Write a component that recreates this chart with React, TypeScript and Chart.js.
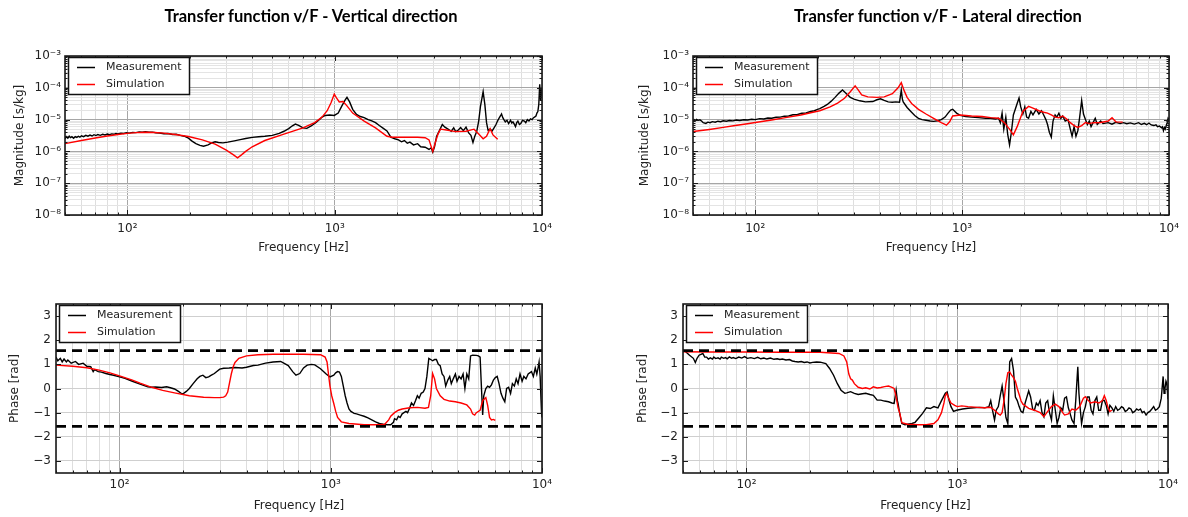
import React, { useEffect, useRef } from 'react';
import Chart from 'chart.js/auto';

// ---------- axes / labels ----------
const X_MIN = 50;
const X_MAX = 10000;
const X_MAJOR_TICKS = [100, 1000, 10000];
const X_TICK_LABELS = ['10²', '10³', '10⁴'];
const MAG_MIN = 1e-8;
const MAG_MAX = 1e-3;
const MAG_MAJOR_TICKS = [1e-8, 1e-7, 1e-6, 1e-5, 1e-4, 1e-3];
const MAG_TICK_LABELS = ['10⁻⁸', '10⁻⁷', '10⁻⁶', '10⁻⁵', '10⁻⁴', '10⁻³'];
const PHASE_MIN = -3.5;
const PHASE_MAX = 3.5;
const PHASE_TICKS = [-3, -2, -1, 0, 1, 2, 3];
const PHASE_TICK_LABELS = ['−3', '−2', '−1', '0', '1', '2', '3'];
const PHASE_BOUNDS = [Math.PI / 2, -Math.PI / 2];
const SERIES_NAMES = ['Measurement', 'Simulation'];
const TITLES = ['Transfer function v/F - Vertical direction', 'Transfer function v/F - Lateral direction'];
const X_TITLE = 'Frequency [Hz]';
const MAG_TITLE = 'Magnitude [s/kg]';
const PHASE_TITLE = 'Phase [rad]';

// ---------- data: [frequency Hz, value] ----------
const vMagMeas = [
  [50, 2.5e-6], [50.8, 2.9e-6], [51.6, 2.6e-6], [52.4, 3.0e-6], [53.2, 2.7e-6], [54, 2.9e-6], [55, 2.6e-6], [56, 2.9e-6],
  [57, 2.75e-6], [58, 3.0e-6], [59, 2.8e-6], [60, 3.1e-6], [61.5, 2.9e-6], [63, 3.2e-6], [64.5, 3.0e-6], [66, 3.25e-6],
  [67.5, 3.05e-6], [69, 3.35e-6], [70.5, 3.15e-6], [72, 3.4e-6], [74, 3.2e-6], [76, 3.45e-6], [78, 3.3e-6], [80, 3.5e-6],
  [82, 3.35e-6], [84, 3.55e-6], [86, 3.45e-6], [88, 3.65e-6], [90, 3.55e-6], [93, 3.75e-6], [96, 3.65e-6], [99, 3.85e-6],
  [102, 3.75e-6], [106, 3.95e-6], [110, 3.9e-6], [114, 4.1e-6], [118, 4.0e-6], [122, 4.15e-6], [127, 4.0e-6], [132, 4.05e-6],
  [137, 3.85e-6], [143, 3.8e-6], [150, 3.6e-6], [157, 3.65e-6], [165, 3.4e-6], [172, 3.45e-6], [180, 3.2e-6], [188, 3.0e-6],
  [197, 2.6e-6], [205, 2.1e-6], [214, 1.75e-6], [224, 1.55e-6], [233, 1.45e-6], [245, 1.6e-6], [255, 1.85e-6], [265, 2.0e-6],
  [275, 1.9e-6], [289, 1.85e-6], [305, 1.95e-6], [328, 2.15e-6], [350, 2.35e-6], [372, 2.55e-6], [400, 2.75e-6], [430, 2.9e-6],
  [460, 3.0e-6], [500, 3.2e-6], [540, 3.7e-6], [569, 4.3e-6], [600, 5.2e-6], [625, 6.4e-6], [646, 7.2e-6], [670, 6.6e-6],
  [703, 5.5e-6], [734, 5.3e-6], [770, 6.3e-6], [810, 8.0e-6], [850, 1.05e-5], [869, 1.2e-5], [900, 1.35e-5], [946, 1.4e-5],
  [995, 1.35e-5], [1040, 1.6e-5], [1080, 2.6e-5], [1120, 4.0e-5], [1146, 5.0e-5], [1180, 3.6e-5], [1221, 2.1e-5], [1274, 1.45e-5],
  [1330, 1.25e-5], [1387, 1.15e-5], [1450, 1.0e-5], [1510, 9.1e-6], [1574, 8.0e-6], [1641, 6.5e-6], [1710, 5.4e-6], [1787, 4.4e-6],
  [1866, 2.8e-6], [1950, 2.5e-6], [2031, 2.3e-6], [2100, 2.0e-6], [2170, 2.2e-6], [2240, 1.8e-6], [2306, 1.95e-6], [2400, 1.6e-6],
  [2512, 1.75e-6], [2600, 1.4e-6], [2731, 1.35e-6], [2851, 1.15e-6], [2920, 1.3e-6], [2972, 9.5e-7], [3030, 1.4e-6], [3103, 3.0e-6],
  [3200, 4.5e-6], [3305, 7.0e-6], [3400, 5.8e-6], [3522, 5.0e-6], [3650, 4.3e-6], [3750, 5.5e-6], [3834, 4.2e-6], [3950, 4.7e-6],
  [4050, 5.6e-6], [4174, 4.5e-6], [4300, 5.8e-6], [4430, 3.8e-6], [4541, 3.2e-6], [4645, 1.9e-6], [4740, 3.0e-6], [4842, 4.2e-6],
  [4950, 9.0e-6], [5048, 2.6e-5], [5200, 7.5e-5], [5300, 3.0e-5], [5400, 8.0e-6], [5495, 4.6e-6], [5620, 5.0e-6], [5750, 4.4e-6],
  [5861, 5.4e-6], [6000, 7.0e-6], [6100, 9.0e-6], [6200, 1.1e-5], [6300, 1.3e-5], [6379, 1.5e-5], [6470, 1.15e-5], [6550, 1.0e-5],
  [6653, 8.5e-6], [6780, 9.5e-6], [6900, 7.5e-6], [6980, 8.5e-6], [7050, 9.5e-6], [7150, 7.8e-6], [7244, 8.5e-6], [7350, 7.2e-6],
  [7450, 6.0e-6], [7550, 8.0e-6], [7650, 9.0e-6], [7780, 7.0e-6], [7900, 7.5e-6], [8050, 9.5e-6], [8225, 9.0e-6], [8350, 8.0e-6],
  [8500, 1.0e-5], [8650, 9.0e-6], [8800, 1.05e-5], [8955, 1.0e-5], [9100, 1.15e-5], [9200, 1.2e-5], [9350, 1.3e-5], [9450, 1.6e-5],
  [9550, 1.8e-5], [9650, 3.0e-5], [9750, 1.3e-4], [9850, 4.0e-5], [9960, 1.0e-4], [10000, 6.0e-5],
];
const vMagSim = [
  [50, 1.75e-6], [60, 2.2e-6], [70, 2.65e-6], [80, 3.05e-6], [90, 3.4e-6], [100, 3.7e-6], [110, 3.9e-6], [121, 4.0e-6],
  [135, 3.95e-6], [150, 3.75e-6], [170, 3.4e-6], [197, 2.95e-6], [230, 2.3e-6], [265, 1.7e-6], [300, 1.1e-6], [325, 7.8e-7],
  [340, 6.3e-7], [355, 7.8e-7], [372, 1.0e-6], [400, 1.4e-6], [460, 2.2e-6], [569, 3.5e-6], [703, 5.5e-6], [800, 8.0e-6],
  [869, 1.2e-5], [920, 1.9e-5], [960, 3.4e-5], [995, 6.3e-5], [1020, 4.8e-5], [1052, 3.6e-5], [1097, 3.7e-5], [1146, 2.7e-5],
  [1221, 1.6e-5], [1387, 9.0e-6], [1574, 5.5e-6], [1787, 3.0e-6], [1900, 2.8e-6], [2200, 2.8e-6], [2512, 2.8e-6], [2731, 2.7e-6],
  [2851, 2.3e-6], [2972, 1.0e-6], [3050, 1.8e-6], [3150, 3.5e-6], [3238, 5.0e-6], [3400, 4.8e-6], [3834, 4.2e-6], [4300, 4.3e-6],
  [4700, 5.0e-6], [4950, 3.5e-6], [5200, 2.5e-6], [5400, 3.0e-6], [5620, 5.2e-6], [5800, 3.3e-6], [6112, 2.4e-6],
];
const vPhaseMeas = [
  [50, 1.3], [51, 1.15], [52.4, 1.25], [53.5, 1.1], [54.6, 1.22], [56, 1.1], [56.9, 1.18], [59, 1.05],
  [61.8, 1.12], [64, 1.0], [67.2, 1.05], [70, 0.92], [73, 0.9], [75, 0.7], [76.1, 0.78], [79.3, 0.7],
  [82, 0.68], [86.1, 0.62], [90, 0.58], [93.6, 0.55], [100, 0.48], [106, 0.42], [115, 0.3], [125, 0.18],
  [136, 0.07], [142, 0.05], [148, 0.06], [158, 0.04], [167, 0.07], [174, 0.03], [182, -0.02], [190, -0.12],
  [197, -0.22], [201, -0.2], [207, -0.12], [214, 0.0], [223, 0.2], [233, 0.4], [240, 0.5], [248, 0.55],
  [256, 0.45], [264, 0.48], [272, 0.55], [281, 0.62], [298, 0.8], [311, 0.84], [330, 0.85], [352, 0.87],
  [380, 0.85], [399, 0.88], [430, 0.95], [452, 0.97], [491, 1.05], [533, 1.1], [579, 1.12], [629, 0.95],
  [660, 0.7], [684, 0.55], [713, 0.62], [743, 0.85], [773, 0.97], [810, 1.0], [840, 0.98], [894, 0.82],
  [951, 0.6], [991, 0.48], [1033, 0.55], [1055, 0.65], [1077, 0.7], [1099, 0.68], [1122, 0.5], [1146, 0.1],
  [1170, -0.3], [1194, -0.6], [1219, -0.85], [1245, -0.95], [1290, -1.03], [1324, -1.05], [1380, -1.1], [1438, -1.15],
  [1500, -1.22], [1563, -1.3], [1630, -1.38], [1698, -1.45], [1770, -1.48], [1844, -1.5], [1922, -1.5], [1980, -1.4],
  [2004, -1.25], [2050, -1.3], [2089, -1.15], [2130, -1.2], [2177, -1.05], [2220, -1.0], [2269, -0.95], [2310, -1.0],
  [2365, -0.8], [2410, -0.6], [2465, -0.7], [2520, -0.5], [2570, -0.3], [2620, -0.4], [2679, -0.2], [2740, -0.15],
  [2792, 0.0], [2850, 0.5], [2911, 1.25], [2972, 1.2], [3034, 1.15], [3100, 1.2], [3162, 1.2], [3230, 1.0],
  [3296, 0.95], [3366, 0.6], [3436, 0.5], [3500, 0.1], [3581, 0.35], [3656, 0.5], [3720, 0.2], [3800, 0.4],
  [3890, 0.6], [3960, 0.3], [4050, 0.5], [4140, 0.4], [4230, 0.6], [4315, 0.0], [4406, 0.6], [4498, 0.4],
  [4590, 1.35], [4690, 1.38], [4888, 1.37], [5000, 1.35], [5093, 1.3], [5152, 0.3], [5237, -1.1], [5300, -0.3],
  [5420, 0.0], [5530, 0.1], [5646, 0.05], [5764, 0.15], [5888, 0.35], [6010, 0.45], [6135, 0.5], [6260, 0.2],
  [6395, -0.2], [6530, -0.4], [6666, -0.55], [6800, 0.0], [6948, 0.05], [7100, -0.2], [7242, 0.2], [7400, 0.1],
  [7550, 0.4], [7700, 0.2], [7870, 0.6], [8050, 0.3], [8205, 0.5], [8400, 0.4], [8600, 0.6], [8915, 0.7],
  [9100, 0.5], [9292, 0.85], [9450, 0.6], [9600, 0.9], [9687, 1.1], [9800, 0.5], [9895, -0.5], [9950, -1.0],
  [10000, -1.2],
];
const vPhaseSim = [
  [50, 0.97], [60, 0.92], [70, 0.86], [80, 0.76], [90, 0.65], [100, 0.52], [115, 0.35], [125, 0.22],
  [142, 0.05], [160, -0.08], [182, -0.18], [214, -0.3], [250, -0.36], [281, -0.38], [298, -0.38], [311, -0.36],
  [318, -0.3], [325, -0.15], [331, 0.2], [338, 0.6], [345, 0.9], [352, 1.08], [367, 1.25], [399, 1.35],
  [452, 1.4], [533, 1.42], [743, 1.42], [894, 1.4], [940, 1.3], [960, 1.1], [975, 0.6], [991, 0.1],
  [1010, -0.3], [1033, -0.62], [1055, -0.95], [1077, -1.2], [1122, -1.38], [1219, -1.45], [1438, -1.5], [1698, -1.5],
  [1800, -1.48], [1880, -1.3], [1922, -1.15], [2004, -1.0], [2089, -0.9], [2177, -0.85], [2365, -0.8], [2570, -0.78],
  [2792, -0.82], [2900, -0.78], [2972, -0.3], [3034, 0.62], [3100, 0.4], [3162, 0.0], [3296, -0.3], [3436, -0.45],
  [3656, -0.52], [3890, -0.55], [4140, -0.6], [4406, -0.68], [4590, -0.85], [4690, -1.05], [4800, -1.1], [4888, -1.0],
  [5093, -0.9], [5237, -0.5], [5420, -0.38], [5530, -0.7], [5646, -1.2], [5764, -1.3], [5888, -1.28], [6010, -1.32],
];
const lMagMeas = [
  [50, 8.5e-6], [50.6, 1.0e-5], [51.3, 9.2e-6], [52, 1.02e-5], [53, 9.5e-6], [54, 9.8e-6], [55, 9.0e-6], [56, 8.0e-6],
  [57.7, 7.6e-6], [59, 8.3e-6], [60.5, 8.0e-6], [62, 8.6e-6], [64, 8.3e-6], [66, 8.9e-6], [68, 8.6e-6], [70, 9.2e-6],
  [72.5, 8.9e-6], [75, 9.4e-6], [78, 9.1e-6], [81, 9.7e-6], [84, 9.4e-6], [88, 9.9e-6], [92, 9.7e-6], [96, 1.03e-5],
  [100, 1.0e-5], [105, 1.07e-5], [110, 1.05e-5], [115, 1.12e-5], [120, 1.1e-5], [126, 1.18e-5], [132, 1.2e-5], [138, 1.28e-5],
  [145, 1.3e-5], [152, 1.42e-5], [160, 1.45e-5], [168, 1.58e-5], [176, 1.62e-5], [185, 1.8e-5], [193, 1.9e-5], [200, 2.1e-5],
  [205, 2.2e-5], [215, 2.6e-5], [223, 3.0e-5], [233, 3.8e-5], [243, 5.0e-5], [254, 6.8e-5], [264, 8.5e-5], [276, 6.5e-5],
  [288, 5.0e-5], [300, 4.4e-5], [320, 3.9e-5], [341, 3.6e-5], [370, 3.7e-5], [387, 4.2e-5], [403, 4.5e-5], [420, 4.0e-5],
  [439, 3.6e-5], [460, 3.5e-5], [477, 3.6e-5], [498, 3.5e-5], [508, 8.5e-5], [514, 4.5e-5], [519, 3.6e-5], [542, 2.4e-5],
  [565, 1.8e-5], [590, 1.35e-5], [615, 1.1e-5], [640, 1.0e-5], [669, 9.5e-6], [700, 9.0e-6], [728, 8.8e-6], [760, 9.2e-6],
  [793, 1.0e-5], [827, 1.2e-5], [855, 1.6e-5], [880, 2.0e-5], [900, 2.1e-5], [940, 1.6e-5], [979, 1.35e-5], [1040, 1.25e-5],
  [1111, 1.2e-5], [1200, 1.15e-5], [1300, 1.1e-5], [1374, 1.1e-5], [1450, 1.05e-5], [1500, 1.1e-5], [1530, 8.0e-6], [1560, 1.6e-5],
  [1590, 5.0e-6], [1626, 1.2e-5], [1660, 3.5e-6], [1695, 1.6e-6], [1730, 4.0e-6], [1769, 1.4e-5], [1810, 2.2e-5], [1845, 3.2e-5],
  [1884, 4.8e-5], [1920, 2.5e-5], [1966, 1.5e-5], [2009, 2.5e-5], [2050, 1.2e-5], [2095, 1.1e-5], [2150, 1.8e-5], [2200, 1.4e-5],
  [2280, 2.1e-5], [2350, 1.5e-5], [2420, 1.9e-5], [2479, 1.4e-5], [2540, 1.0e-5], [2587, 7.0e-6], [2640, 4.0e-6], [2698, 2.8e-6],
  [2750, 9.0e-6], [2815, 1.4e-5], [2870, 1.2e-5], [2936, 1.6e-5], [3000, 1.1e-5], [3063, 1.3e-5], [3150, 9.0e-6], [3250, 1.0e-5],
  [3333, 5.0e-6], [3400, 3.0e-6], [3477, 6.0e-6], [3550, 3.0e-6], [3626, 4.5e-6], [3700, 1.2e-5], [3783, 4.0e-5], [3860, 1.5e-5],
  [3946, 1.0e-5], [4030, 7.0e-6], [4117, 9.0e-6], [4200, 6.0e-6], [4295, 8.0e-6], [4400, 1.1e-5], [4500, 7.0e-6], [4674, 9.0e-6],
  [4800, 7.5e-6], [5085, 8.0e-6], [5300, 7.2e-6], [5533, 8.2e-6], [5800, 7.5e-6], [6024, 8.0e-6], [6250, 7.4e-6], [6500, 7.9e-6],
  [6800, 7.2e-6], [7130, 8.0e-6], [7350, 7.0e-6], [7600, 7.6e-6], [7800, 6.9e-6], [8000, 7.8e-6], [8200, 6.8e-6], [8447, 6.5e-6],
  [8650, 6.9e-6], [8800, 6.0e-6], [9000, 6.3e-6], [9190, 5.5e-6], [9300, 5.9e-6], [9400, 4.5e-6], [9500, 5.6e-6], [9590, 5.0e-6],
  [9700, 6.5e-6], [9800, 8.0e-6], [9900, 1.1e-5], [10000, 1.0e-5],
];
const lMagSim = [
  [50, 4.2e-6], [60, 4.9e-6], [70, 5.7e-6], [80, 6.5e-6], [90, 7.3e-6], [100, 8.1e-6], [120, 9.7e-6], [140, 1.15e-5],
  [166, 1.4e-5], [190, 1.7e-5], [205, 1.9e-5], [230, 2.5e-5], [250, 3.3e-5], [270, 4.7e-5], [288, 7.5e-5], [304, 1.15e-4],
  [315, 8.5e-5], [327, 6.0e-5], [350, 5.2e-5], [387, 5.0e-5], [420, 5.2e-5], [460, 6.5e-5], [490, 1.0e-4], [508, 1.45e-4],
  [525, 8.0e-5], [542, 5.0e-5], [570, 3.2e-5], [615, 2.1e-5], [669, 1.5e-5], [728, 1.1e-5], [793, 8.0e-6], [840, 6.7e-6],
  [870, 8.5e-6], [900, 1.3e-5], [979, 1.4e-5], [1111, 1.3e-5], [1250, 1.25e-5], [1374, 1.15e-5], [1500, 1.1e-5], [1600, 8.0e-6],
  [1695, 5.0e-6], [1769, 3.3e-6], [1845, 6.0e-6], [1966, 1.8e-5], [2095, 2.6e-5], [2200, 2.3e-5], [2350, 1.9e-5], [2479, 1.7e-5],
  [2587, 1.6e-5], [2698, 1.4e-5], [2815, 1.2e-5], [2936, 1.15e-5], [3063, 1.3e-5], [3200, 1.05e-5], [3333, 8.0e-6], [3477, 6.5e-6],
  [3626, 5.7e-6], [3783, 6.5e-6], [3946, 8.1e-6], [4117, 7.5e-6], [4295, 8.0e-6], [4674, 8.1e-6], [5085, 9.0e-6], [5304, 1.15e-5],
  [5533, 8.5e-6], [5970, 8.3e-6],
];
const lPhaseMeas = [
  [50, 1.6], [51.5, 1.52], [53.7, 1.38], [56, 1.25], [57.2, 1.08], [58.3, 1.25], [59.6, 1.38], [62.1, 1.45],
  [63.4, 1.3], [64.7, 1.3], [66, 1.22], [67.4, 1.27], [69, 1.22], [70, 1.3], [71.5, 1.24], [73.3, 1.27],
  [75, 1.22], [76, 1.3], [78, 1.25], [79.6, 1.28], [81, 1.23], [83, 1.31], [85, 1.25], [86.5, 1.28],
  [89, 1.24], [92, 1.3], [95, 1.26], [98, 1.32], [101, 1.25], [105, 1.28], [109, 1.24], [113, 1.29],
  [117, 1.23], [121, 1.26], [125, 1.22], [130, 1.26], [135, 1.21], [140, 1.23], [144, 1.2], [148, 1.22],
  [154, 1.18], [160, 1.2], [165, 1.14], [170, 1.12], [176, 1.1], [182, 1.12], [188, 1.08], [194, 1.1],
  [200, 1.06], [206, 1.08], [215, 1.1], [224, 1.09], [231, 1.06], [238, 1.03],
  [248, 0.83], [259, 0.55], [270, 0.2], [281, -0.07], [293, -0.2], [299, -0.18], [312, -0.13], [325, -0.2],
  [339, -0.25], [355, -0.22], [368, -0.2], [385, -0.25], [400, -0.28], [417, -0.48], [434, -0.48], [452, -0.52],
  [472, -0.55], [490, -0.6], [502, -0.62], [513, -0.07], [520, -0.5], [524, -0.62], [535, -1.1], [546, -1.45],
  [565, -1.5], [581, -1.48], [610, -1.45], [631, -1.4], [660, -1.2], [685, -1.03], [714, -0.8], [745, -0.83],
  [775, -0.75], [810, -0.8], [842, -0.5], [878, -0.2], [896, -0.14], [915, -0.5], [934, -0.75], [960, -0.95],
  [993, -0.9], [1060, -0.85], [1125, -0.82], [1200, -0.8], [1274, -0.78], [1350, -0.8], [1413, -0.75], [1442, -0.5],
  [1470, -0.9], [1503, -1.3], [1530, -0.9], [1567, -0.75], [1600, -0.3], [1633, 0.1], [1667, -0.5], [1702, -1.2],
  [1738, -1.45], [1774, 1.1], [1811, 1.24], [1849, 0.75], [1888, -0.35], [1927, -0.5], [1967, -0.75], [2009, -0.95],
  [2050, -1.0], [2100, -0.6], [2183, -0.1], [2229, -0.35], [2280, -0.85], [2323, -0.9], [2373, -0.6], [2420, -0.7],
  [2473, -0.5], [2525, -1.0], [2577, -1.17], [2630, -0.6], [2686, -0.5], [2740, -1.0], [2800, -1.3], [2858, -0.3],
  [2920, -0.9], [2979, -1.45], [3037, -1.2], [3100, -0.8], [3166, -0.9], [3231, -0.4], [3298, -0.35], [3367, -0.8],
  [3436, -1.05], [3500, -1.3], [3582, -1.45], [3650, -0.5], [3733, 0.9], [3780, -0.2], [3811, -0.6], [3890, -1.45],
  [3970, -1.0], [4055, -0.75], [4140, -0.35], [4227, -0.35], [4320, -0.9], [4406, -1.05], [4500, -0.5], [4592, -0.35],
  [4690, -0.9], [4786, -0.9], [4886, -0.5], [4988, -0.5], [5092, -0.7], [5197, -1.05], [5300, -0.7], [5417, -0.8],
  [5530, -0.95], [5647, -0.75], [5770, -0.9], [5900, -0.85], [6020, -0.75], [6136, -0.8], [6270, -0.95], [6400, -0.9],
  [6530, -0.8], [6667, -0.85], [6800, -1.0], [6950, -0.95], [7100, -0.85], [7244, -0.9], [7400, -0.85], [7550, -1.0],
  [7700, -0.95], [7871, -1.1], [8030, -1.0], [8200, -0.95], [8380, -0.85], [8552, -0.75], [8720, -0.9], [8900, -0.85],
  [9100, -0.75], [9292, -0.4], [9482, 0.5], [9580, -0.2], [9676, 0.0], [9780, 0.3], [9874, 0.2], [10000, -0.45],
];
const lPhaseSim = [
  [50, 1.52], [64.7, 1.51], [98, 1.51], [148, 1.5], [224, 1.5], [275, 1.45], [290, 1.35], [299, 1.1],
  [306, 0.6], [312, 0.4], [318, 0.35], [325, 0.2], [339, 0.05], [355, 0.0], [368, 0.03], [385, -0.02],
  [400, 0.07], [417, 0.02], [434, 0.04], [452, 0.08], [472, 0.1], [490, 0.05], [502, 0.0], [513, -0.35],
  [524, -0.8], [535, -1.05], [546, -1.42], [581, -1.48], [650, -1.5], [714, -1.5], [775, -1.45], [810, -1.3],
  [842, -1.0], [865, -0.6], [878, -0.3], [890, -0.2], [910, -0.4], [934, -0.6], [973, -0.7], [1000, -0.75],
  [1050, -0.72], [1125, -0.75], [1250, -0.78], [1350, -0.8], [1442, -0.78], [1503, -0.9], [1567, -1.05], [1600, -1.1],
  [1633, -1.0], [1667, -0.5], [1702, 0.2], [1738, 0.65], [1774, 0.69], [1811, 0.55], [1849, 0.45], [1888, 0.3],
  [1927, 0.0], [1967, -0.25], [2009, -0.52], [2050, -0.65], [2183, -0.82], [2323, -0.9], [2473, -1.0], [2577, -1.17],
  [2686, -0.95], [2800, -0.75], [2920, -0.65], [3037, -0.75], [3166, -1.0], [3231, -1.1], [3367, -1.05], [3500, -0.85],
  [3650, -0.9], [3811, -0.75], [3970, -0.4], [4055, -0.34], [4140, -0.45], [4300, -0.6], [4500, -0.55], [4700, -0.6],
  [4886, -0.5], [4988, -0.3], [5092, -0.5], [5197, -0.8], [5300, -0.95], [5417, -0.9],
];

// ---------- helpers ----------
const FONT = 'DejaVu Sans';
const TEXT_COLOR = '#222';

function logGrid(min: number, max: number): number[] {
  const out: number[] = [];
  const e0 = Math.floor(Math.log10(min));
  const e1 = Math.ceil(Math.log10(max));
  for (let e = e0; e <= e1; e++) {
    for (let d = 1; d <= 9; d++) {
      const v = d * Math.pow(10, e);
      if (v >= min * 0.999 && v <= max * 1.001) out.push(v);
    }
  }
  return out;
}
function majorIndex(v: number, majors: number[]): number {
  return majors.findIndex((m) => Math.abs(v / m - 1) < 1e-6);
}
function toPoints(pairs: number[][]) {
  return pairs.map(([x, y]) => ({ x, y }));
}

type Area = { left: number; right: number; top: number; bottom: number };
type Panel = {
  kind: 'mag' | 'phase';
  meas: number[][];
  sim: number[][];
  pos: { left: number; top: number; width: number; height: number };
  area: Area;
  yTitleX: number;
  xTitleY: number;
  xLabelPad: number;
  yLabelPad: number;
};

const framePlugin = {
  id: 'frameTicksLegend',
  afterDraw(chart: any) {
    const kind = chart.options.plugins.frameTicksLegend.kind;
    const { ctx, chartArea } = chart;
    const { left, right, top, bottom } = chartArea;
    const xs = chart.scales.x;
    const ys = chart.scales.y;
    ctx.save();
    ctx.strokeStyle = '#1a1a1a';
    ctx.lineWidth = 1;
    ctx.beginPath();
    for (const v of logGrid(X_MIN, X_MAX)) {
      const px = Math.round(xs.getPixelForValue(v)) + 0.5;
      const len = majorIndex(v, X_MAJOR_TICKS) >= 0 ? 5 : 2.5;
      ctx.moveTo(px, bottom);
      ctx.lineTo(px, bottom - len);
      ctx.moveTo(px, top);
      ctx.lineTo(px, top + len);
    }
    const yVals = kind === 'mag' ? logGrid(MAG_MIN, MAG_MAX) : PHASE_TICKS;
    for (const v of yVals) {
      const py = Math.round(ys.getPixelForValue(v)) + 0.5;
      const len = kind === 'phase' || majorIndex(v, MAG_MAJOR_TICKS) >= 0 ? 5 : 2.5;
      ctx.moveTo(left, py);
      ctx.lineTo(left + len, py);
      ctx.moveTo(right, py);
      ctx.lineTo(right - len, py);
    }
    ctx.stroke();
    // frame
    ctx.lineWidth = 1.6;
    ctx.strokeStyle = '#1a1a1a';
    ctx.strokeRect(left, top, right - left, bottom - top);
    // legend
    const bx = left + 3.5;
    const by = top + 1.5;
    const bw = 121;
    const bh = 37;
    ctx.fillStyle = '#ffffff';
    ctx.fillRect(bx, by, bw, bh);
    ctx.lineWidth = 1.5;
    ctx.strokeStyle = '#111';
    ctx.strokeRect(bx, by, bw, bh);
    const ds = chart.data.datasets;
    for (let i = 0; i < 2; i++) {
      const ly = by + 10 + i * 17;
      ctx.strokeStyle = ds[i].borderColor;
      ctx.lineWidth = 1.5;
      ctx.beginPath();
      ctx.moveTo(left + 12, ly);
      ctx.lineTo(left + 30, ly);
      ctx.stroke();
      ctx.fillStyle = TEXT_COLOR;
      ctx.font = `11px "${FONT}"`;
      ctx.textBaseline = 'middle';
      ctx.textAlign = 'left';
      ctx.fillText(ds[i].label, left + 41, ly);
    }
    ctx.restore();
  },
};

function makeChart(canvas: HTMLCanvasElement, p: Panel) {
  const isMag = p.kind === 'mag';
  const W = p.pos.width;
  const H = p.pos.height;
  const xGrid = logGrid(X_MIN, X_MAX);
  const yGrid = isMag ? logGrid(MAG_MIN, MAG_MAX) : PHASE_TICKS;
  const datasets: any[] = [
    { label: SERIES_NAMES[0], data: toPoints(p.meas), borderColor: '#000000', borderWidth: 1.4, pointRadius: 0, tension: 0, order: 3 },
    { label: SERIES_NAMES[1], data: toPoints(p.sim), borderColor: '#ff0000', borderWidth: 1.4, pointRadius: 0, tension: 0, order: 2 },
  ];
  if (!isMag) {
    PHASE_BOUNDS.forEach((b, i) => {
      datasets.push({
        label: i === 0 ? '+π/2' : '−π/2',
        data: [{ x: X_MIN, y: b }, { x: X_MAX, y: b }],
        borderColor: '#000000',
        borderWidth: 2.6,
        borderDash: [10, 6],
        pointRadius: 0,
        order: 1,
      });
    });
  }
  return new Chart(canvas, {
    type: 'line',
    data: { datasets },
    options: {
      responsive: false,
      animation: false,
      parsing: true,
      layout: { padding: { left: 0, right: W - p.area.right, top: p.area.top, bottom: 0 } },
      plugins: {
        legend: { display: false },
        tooltip: { enabled: false },
        frameTicksLegend: { kind: p.kind },
      } as any,
      scales: {
        x: {
          type: 'logarithmic',
          min: X_MIN,
          max: X_MAX,
          afterBuildTicks: (s: any) => {
            s.ticks = xGrid.map((v) => ({ value: v }));
          },
          afterFit: (s: any) => {
            s.height = H - p.area.bottom;
          },
          ticks: {
            autoSkip: false,
            maxRotation: 0,
            minRotation: 0,
            padding: p.xLabelPad,
            color: TEXT_COLOR,
            font: { family: FONT, size: 12 },
            callback: (v: any) => {
              const i = majorIndex(Number(v), X_MAJOR_TICKS);
              return i >= 0 ? X_TICK_LABELS[i] : '';
            },
          },
          grid: {
            drawTicks: false,
            lineWidth: 1,
            color: (c: any) => (c.tick && majorIndex(c.tick.value, X_MAJOR_TICKS) >= 0 ? '#a6a6a6' : '#dedede'),
          },
          border: { display: false },
          title: {
            display: true,
            text: X_TITLE,
            color: TEXT_COLOR,
            font: { family: FONT, size: 12 },
            padding: { top: 0, bottom: H - p.xTitleY - 7.2 },
          },
        },
        y: {
          type: isMag ? 'logarithmic' : 'linear',
          min: isMag ? MAG_MIN : PHASE_MIN,
          max: isMag ? MAG_MAX : PHASE_MAX,
          afterBuildTicks: (s: any) => {
            s.ticks = yGrid.map((v) => ({ value: v }));
          },
          afterFit: (s: any) => {
            s.width = p.area.left;
          },
          ticks: {
            autoSkip: false,
            padding: p.yLabelPad,
            color: TEXT_COLOR,
            font: { family: FONT, size: 12 },
            callback: (v: any) => {
              if (isMag) {
                const i = majorIndex(Number(v), MAG_MAJOR_TICKS);
                return i >= 0 ? MAG_TICK_LABELS[i] : '';
              }
              const j = PHASE_TICKS.indexOf(Math.round(Number(v)));
              return j >= 0 ? PHASE_TICK_LABELS[j] : '';
            },
          },
          grid: {
            drawTicks: false,
            lineWidth: 1,
            color: (c: any) => {
              if (!isMag) return '#cfcfcf';
              return c.tick && majorIndex(c.tick.value, MAG_MAJOR_TICKS) >= 0 ? '#a6a6a6' : '#e4e4e4';
            },
          },
          border: { display: false },
          title: {
            display: true,
            text: isMag ? MAG_TITLE : PHASE_TITLE,
            color: TEXT_COLOR,
            font: { family: FONT, size: 12 },
            padding: { top: p.yTitleX - 7.2, bottom: 0 },
          },
        },
      },
    } as any,
    plugins: [framePlugin as any],
  });
}

const PANELS: Panel[] = [
  {
    kind: 'mag', meas: vMagMeas, sim: vMagSim,
    pos: { left: 0, top: 0, width: 594, height: 260 },
    area: { left: 65, right: 542, top: 56, bottom: 215 },
    yTitleX: 20, xTitleY: 248, xLabelPad: 7, yLabelPad: 4,
  },
  {
    kind: 'mag', meas: lMagMeas, sim: lMagSim,
    pos: { left: 594, top: 0, width: 594, height: 260 },
    area: { left: 99, right: 575, top: 56, bottom: 215 },
    yTitleX: 51, xTitleY: 248, xLabelPad: 7, yLabelPad: 4,
  },
  {
    kind: 'phase', meas: vPhaseMeas, sim: vPhaseSim,
    pos: { left: 0, top: 260, width: 594, height: 257 },
    area: { left: 56, right: 542, top: 44, bottom: 213 },
    yTitleX: 14.5, xTitleY: 246, xLabelPad: 5, yLabelPad: 5,
  },
  {
    kind: 'phase', meas: lPhaseMeas, sim: lPhaseSim,
    pos: { left: 594, top: 260, width: 594, height: 257 },
    area: { left: 89, right: 574, top: 44, bottom: 213 },
    yTitleX: 49, xTitleY: 246, xLabelPad: 5, yLabelPad: 5,
  },
];

function PanelChart({ panel }: { panel: Panel }) {
  const ref = useRef<HTMLCanvasElement | null>(null);
  useEffect(() => {
    if (!ref.current) return;
    const chart = makeChart(ref.current, panel);
    return () => chart.destroy();
  }, [panel]);
  return (
    <canvas
      ref={ref}
      width={panel.pos.width}
      height={panel.pos.height}
      style={{
        position: 'absolute',
        left: panel.pos.left,
        top: panel.pos.top,
        width: panel.pos.width,
        height: panel.pos.height,
      }}
    />
  );
}

const TITLE_CENTERS = [311, 938];

export default function App() {
  return (
    <div
      style={{
        position: 'absolute',
        left: 0,
        top: 0,
        width: 1188,
        height: 517,
        background: '#ffffff',
        overflow: 'hidden',
      }}
    >
      {PANELS.map((p, i) => (
        <PanelChart key={i} panel={p} />
      ))}
      {TITLES.map((t, i) => (
        <div
          key={t}
          style={{
            position: 'absolute',
            left: TITLE_CENTERS[i] - 220,
            top: 5,
            width: 440,
            height: 22,
            lineHeight: '22px',
            textAlign: 'center',
            fontFamily: 'Lato, "DejaVu Sans", sans-serif',
            fontWeight: 700,
            fontSize: 16.5,
            color: '#000',
            whiteSpace: 'nowrap',
          }}
        >
          {t}
        </div>
      ))}
    </div>
  );
}
